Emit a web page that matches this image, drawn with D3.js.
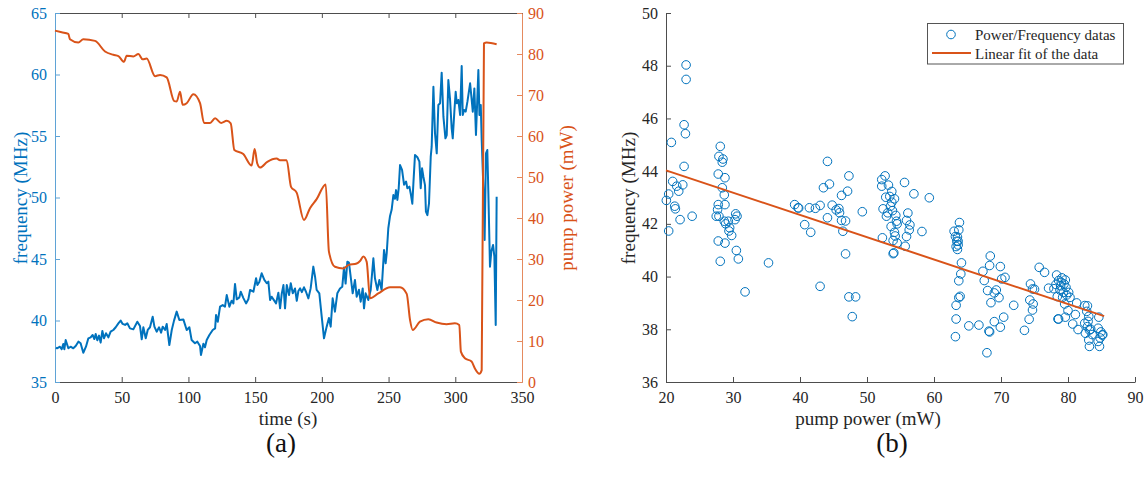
<!DOCTYPE html>
<html>
<head>
<meta charset="utf-8">
<script src="https://cdn.jsdelivr.net/npm/d3@7/dist/d3.min.js"></script>
<style>
  html, body { margin: 0; padding: 0; background: #ffffff; }
  svg { display: block; }
  text { font-family: "Liberation Serif", "Times New Roman", serif; }
</style>
</head>
<body>
<svg id="chart" width="1148" height="484"></svg>
<script>
// ---------------- DATA ----------------
// (a) frequency vs time
const freqTime = [0.7,1.5,3.7,5,6.2,7,8,10,11.7,13.7,15.5,17.5,19.2,21.2,23.2,25,26.7,28.2,29.5,30.5,31.7,33,34.2,35.5,36.7,38.2,40,41.7,43.7,45.5,47.5,49.2,50.7,52.5,54.2,56.2,58.7,61.7,63.7,65,66.2,68,69.5,71.2,73.2,74.5,76.2,78,79.5,80.7,82.5,83.7,85.7,87.5,89.2,91.2,93.2,96.2,98.7,100.7,102.4,104.9,106.7,108.7,109.4,111.2,112.4,113.7,115.7,118.2,120,120.7,122,123.7,125.7,127.4,128.7,130.7,132.4,133.7,134.9,136.2,138.2,139.2,141.2,143.2,144.9,146.2,148.7,150.7,151.7,153.2,154.9,156.9,158.7,159.9,161.2,162.4,163.7,165.7,167.4,168.7,169.9,171.2,172.4,173.7,175.4,176.7,178.2,179.9,181.2,182.4,183.7,185,186.6,188.1,189.9,191.6,193.6,194.9,196.1,198.1,199.9,201.6,203.6,205.3,206.6,208.1,209.8,211.6,213.6,215.3,216.6,217.8,219.1,220.3,221.6,223.1,224.8,226.1,227.8,229.1,230.6,231.6,232.8,234.8,236.6,238.6,239.8,241.6,243.1,244.8,246.6,247.8,248.6,249.8,251.1,252.3,253.6,254.8,255.6,256.6,257.6,258.6,260.1,261.6,263.1,264.1,265.6,266.8,267.8,268.6,269.8,271.6,273.1,274.1,275.1,276.1,277.3,278,279.1,280.3,281.6,282.3,283.6,284.8,286.1,287.3,288.6,289.8,291.1,292.6,293.6,294.8,296.1,297.3,298.1,299.3,300.3,301.1,302.3,303.6,304.8,305.6,306.6,307.8,309.1,311.1,312.3,313.1,314.3,315.5,317.3,318.1,319.1,319.8,321.1,322,323,324,324.8,326,327,328.3,329.3,330.3,331];
const freqValues = [37.79,37.74,37.87,37.66,38.09,37.66,38.41,37.74,37.87,37.74,37.93,38.28,38.15,37.38,37.87,38.55,38.63,38.82,38.49,38.9,38.39,38.77,38.2,39.15,38.55,38.96,38.63,39.09,39.23,39.45,39.77,39.99,39.72,39.64,39.77,39.36,39.28,39.9,39.55,38.47,39.45,38.55,39.23,39.45,40.31,39.5,39.09,39.45,39.01,39.5,39.23,39.72,38.0,39.23,39.99,40.72,40.04,40.09,39.23,39.45,38.41,38.15,38.28,37.93,37.2,38.11,37.82,38.41,38.82,39.23,39.36,40.45,39.9,41.12,41.25,41.12,42.07,41.12,41.61,41.39,42.97,41.72,41.88,42.34,41.82,41.39,41.72,42.48,42.34,43.43,42.88,43.16,43.84,43.3,43.03,43.16,41.67,41.93,41.72,41.39,42.26,40.99,42.15,42.88,40.99,42.88,42.07,43.03,42.21,42.6,41.6,42.4,42.61,42.3,42.7,42.34,41.8,42.61,44.38,43.56,42.48,42.21,40.31,38.55,39.5,40.21,39.5,41.8,40.72,42.21,42.6,42.75,44.3,43.0,44.78,44.7,43.56,42.21,43.3,41.94,42.5,41.53,42.61,40.99,42.21,41.67,42.48,45.06,43.43,42.48,43.3,42.48,45.73,44.65,45.46,47.5,48.5,49.0,50.2,49.9,50.6,49.8,50.75,52.64,52.24,51.04,51.3,50.75,50.88,50.2,49.5,51.15,53.46,53.27,52.92,50.75,52.37,51.69,51.01,48.85,48.57,49.53,53.32,54.13,59.0,55.22,53.59,57.52,57.66,60.15,56.57,54.81,55.08,59.55,57.93,55.62,54.81,56.98,58.6,57.66,57.93,56.71,60.69,56.71,57.11,56.98,57.79,59.28,57.93,56.98,58.87,55.08,60.37,56.71,57.52,54.67,50.61,46.54,53.59,53.86,50.34,44.38,45.6,46.14,45.19,39.63,50.07];

// (a) pump power vs time
const powerTime = [0,5,10,11.2,17.5,21.2,30,37.5,43.7,47.5,51.7,53.7,58.7,62.5,65.7,68.7,75,78.7,83.7,89.4,91.2,93.7,95.7,98.7,103.7,108.7,111.7,116.2,120,124.5,128.7,131.7,134.4,141.1,147.4,149.6,151.6,153.7,159.1,166.1,168.6,173.6,176.9,181.1,186.6,191.1,196.1,202.9,205.3,209.8,216.1,219.8,226.1,228.6,231.1,233.6,236.1,242.3,251.1,258.6,263.6,266.1,268.1,273.5,279.8,286,293.5,299.7,303,304.2,307.2,312.2,314.7,318,319.8,321.5,323.5,331];
const powerValues = [85.7,85.3,84.9,83.6,82.8,83.6,83.2,80.6,79.8,79.5,78.1,79.6,79.4,80.0,78.7,78.9,74.6,74.9,74.3,68.5,68.4,70.8,67.6,68.0,70.2,68.0,63.2,63.2,64.3,63.2,63.7,63.1,56.6,55.6,52.8,56.8,53.3,52.3,53.7,54.5,54.1,54.1,47.6,46.2,39.5,42.4,44.6,48.2,31.8,28.1,27.7,28.5,28.9,29.5,30.6,29.3,20.4,21.6,23.1,23.1,21.5,15.1,12.7,14.7,15.3,14.5,14.1,14.3,13.9,7.4,5.8,5.0,3.3,2.0,2.9,82.6,82.8,82.4];

// (b) scatter: pump power (mW) and frequency (MHz)
const scatterPower = [23.0,23.0,22.7,22.9,20.8,22.7,21.0,20.4,21.6,21.9,22.5,20.05,21.3,21.4,22.1,23.9,20.4,
  28.1,27.9,28.5,28.4,27.8,28.8,28.4,28.7,27.8,28.8,27.7,27.5,27.9,28.7,28.9,29.3,30.4,30.6,30.3,29.5,29.8,29.4,27.8,28.8,28.1,30.5,30.8,31.8,35.3,
  39.2,39.7,39.8,40.7,41.6,41.4,42.3,43.0,43.5,44.4,44.1,44.1,44.8,45.4,45.8,45.9,46.2,47.1,47.3,46.2,46.8,46.4,46.8,43.0,47.3,48.3,47.8,49.3,
  52.7,52.2,52.2,53.2,53.7,52.8,53.4,54.1,53.7,53.5,52.4,53.1,52.9,54.3,54.5,55.6,57.0,59.3,56.1,55.9,56.4,56.3,55.9,54.1,54.2,53.9,52.3,54.5,55.7,58.2,53.9,54.0,53.8,54.4,53.6,
  63.8,63.0,63.7,63.2,63.4,63.6,63.3,63.5,64.1,64.0,63.7,63.9,63.7,63.3,63.3,63.2,65.2,66.7,63.5,63.6,
  68.4,68.3,67.3,67.5,68.0,69.0,69.3,69.7,68.5,69.9,70.1,70.6,67.9,68.3,68.2,69.0,70.4,69.9,71.9,73.5,74.2,
  74.4,74.7,75.0,74.3,74.8,74.7,75.7,76.5,
  77.1,77.9,78.3,78.6,79.0,79.4,79.6,79.7,78.8,78.4,79.2,80.3,79.5,80.0,78.5,78.6,79.6,81.1,81.3,80.7,81.5,82.5,82.9,82.8,83.1,82.5,82.9,83.2,82.6,83.1,83.2,84.5,84.6,85.1,84.8,84.5,84.7,85.2,
  78.9,79.3,79.8,78.2,79.1,80.1,83.0,83.4,83.6,84.9];
const scatterFreq = [48.03,47.48,45.76,45.42,45.09,44.18,43.61,43.13,43.43,43.24,43.48,42.89,42.67,42.57,42.16,42.29,41.73,
  44.94,44.56,44.46,44.34,43.89,43.75,43.37,43.10,42.73,42.73,42.54,42.29,42.29,42.10,42.00,42.10,42.38,42.29,42.16,41.85,41.56,41.73,41.35,41.27,40.58,40.99,40.67,39.42,40.52,
  42.73,42.61,42.60,41.97,41.68,42.61,42.59,42.70,43.37,43.51,44.37,42.23,42.71,42.53,42.58,42.42,43.08,43.24,43.82,42.13,42.11,41.72,40.86,39.63,39.23,39.23,38.48,42.46,
  43.82,43.68,43.43,43.47,43.23,43.01,43.04,42.95,42.82,42.67,42.57,42.42,42.29,42.32,42.00,43.57,43.14,42.99,42.41,42.13,41.96,41.77,41.52,41.68,41.54,41.37,41.47,41.27,41.15,41.71,40.87,40.90,42.50,42.10,41.90,
  42.05,41.72,41.77,41.52,41.34,41.34,41.14,41.03,40.52,40.10,39.84,39.25,39.20,38.91,38.39,37.72,38.13,38.16,41.50,41.20,
  40.78,40.42,40.20,39.85,39.47,39.38,39.49,39.20,39.01,40.38,39.91,39.97,37.11,37.90,37.93,38.29,38.46,38.08,38.91,37.96,38.38,
  39.72,39.53,39.52,39.11,38.96,38.73,40.35,40.16,
  39.56,39.54,40.06,39.85,39.78,39.72,39.87,39.59,39.49,39.24,39.21,39.21,38.96,38.71,38.39,38.39,38.46,38.56,39.00,38.20,37.99,38.90,38.89,38.68,38.49,38.23,38.10,37.97,37.85,37.59,37.35,38.04,38.46,37.78,37.67,37.54,37.35,37.80,
  39.65,39.40,39.30,39.70,39.95,39.40,38.30,38.00,37.80,37.90];

// (b) linear fit endpoints
const fitPower = [20, 85.4];
const fitFreq = [44.03, 38.5];

// tick values
const timeTicks = [0, 50, 100, 150, 200, 250, 300, 350];
const freqTicksA = [35, 40, 45, 50, 55, 60, 65];
const powerTicksA = [0, 10, 20, 30, 40, 50, 60, 70, 80, 90];
const pumpTicksB = [20, 30, 40, 50, 60, 70, 80, 90];
const freqTicksB = [36, 38, 40, 42, 44, 46, 48, 50];

const legendLabels = ["Power/Frequency datas", "Linear fit of the data"];
const panelLabels = ["(a)", "(b)"];

// ---------------- DRAWING ----------------
const BLUE = "#0072BD", ORANGE = "#D95319", AXIS = "#4d4d4d", TXT = "#262626";
const svg = d3.select("#chart");

function styleAxis(g, color, textColor) {
  g.select(".domain").attr("stroke", color).attr("stroke-width", 1);
  g.selectAll(".tick line").attr("stroke", color);
  g.selectAll(".tick text").attr("fill", textColor).style("font-size", "16px")
    .style("font-family", '"Liberation Serif", "Times New Roman", serif');
}

// ===== Panel (a) =====
const xA = d3.scaleLinear().domain([0, 350]).range([55, 522]);
const yFA = d3.scaleLinear().domain([35, 65]).range([382, 13]);
const yPA = d3.scaleLinear().domain([0, 90]).range([382, 13]);

const gA = svg.append("g");

// top axis (box)
gA.append("g").attr("transform", `translate(0,${yFA(65)})`)
  .call(d3.axisTop(xA).tickValues(timeTicks).tickSizeInner(-5).tickSizeOuter(0).tickFormat(""))
  .call(g => styleAxis(g, AXIS, TXT));
// bottom axis
gA.append("g").attr("transform", `translate(0,${yFA(35)})`)
  .call(d3.axisBottom(xA).tickValues(timeTicks).tickSizeInner(-5).tickSizeOuter(0).tickPadding(10))
  .call(g => styleAxis(g, AXIS, TXT));
// left axis
gA.append("g").attr("transform", `translate(${xA(0)},0)`)
  .call(d3.axisLeft(yFA).tickValues(freqTicksA).tickSizeInner(-5).tickSizeOuter(0).tickPadding(8))
  .call(g => styleAxis(g, "#5fa3d6", BLUE));
// right axis
gA.append("g").attr("transform", `translate(${xA(350)},0)`)
  .call(d3.axisRight(yPA).tickValues(powerTicksA).tickSizeInner(-5).tickSizeOuter(0).tickPadding(6))
  .call(g => styleAxis(g, "#e58a5e", ORANGE));

const lineF = d3.line().x((d, i) => xA(freqTime[i])).y(d => yFA(d));
gA.append("path").datum(freqValues).attr("d", lineF)
  .attr("fill", "none").attr("stroke", BLUE).attr("stroke-width", 2).attr("stroke-linejoin", "round");

const lineP = d3.line().x((d, i) => xA(powerTime[i])).y(d => yPA(d)).curve(d3.curveMonotoneX);
gA.append("path").datum(powerValues).attr("d", lineP)
  .attr("fill", "none").attr("stroke", ORANGE).attr("stroke-width", 2).attr("stroke-linejoin", "round");

gA.append("text").attr("x", 288).attr("y", 425).attr("text-anchor", "middle")
  .attr("fill", TXT).style("font-size", "19px").text("time (s)");
gA.append("text").attr("transform", "translate(20,198) rotate(-90)").attr("text-anchor", "middle")
  .attr("dominant-baseline", "central").attr("fill", BLUE).style("font-size", "19px").text("frequency (MHz)");
gA.append("text").attr("transform", "translate(566,198) rotate(-90)").attr("text-anchor", "middle")
  .attr("dominant-baseline", "central").attr("fill", ORANGE).style("font-size", "19px").text("pump power (mW)");
gA.append("text").attr("x", 281).attr("y", 452).attr("text-anchor", "middle")
  .attr("fill", "#111").style("font-size", "27px").text(panelLabels[0]);

// ===== Panel (b) =====
const xB = d3.scaleLinear().domain([20, 90]).range([666, 1135]);
const yB = d3.scaleLinear().domain([36, 50]).range([382, 13]);
const gB = svg.append("g");

gB.append("g").attr("transform", `translate(0,${yB(36)})`)
  .call(d3.axisBottom(xB).tickValues(pumpTicksB).tickSizeInner(-5).tickSizeOuter(0).tickPadding(10))
  .call(g => styleAxis(g, AXIS, TXT));
gB.append("g").attr("transform", `translate(${xB(20)},0)`)
  .call(d3.axisLeft(yB).tickValues(freqTicksB).tickSizeInner(-5).tickSizeOuter(0).tickPadding(8))
  .call(g => styleAxis(g, AXIS, TXT));

gB.append("g").selectAll("circle").data(scatterPower).join("circle")
  .attr("cx", d => xB(d)).attr("cy", (d, i) => yB(scatterFreq[i])).attr("r", 4.3)
  .attr("fill", "none").attr("stroke", BLUE).attr("stroke-width", 1);

gB.append("line").attr("x1", xB(fitPower[0])).attr("y1", yB(fitFreq[0]))
  .attr("x2", xB(fitPower[1])).attr("y2", yB(fitFreq[1]))
  .attr("stroke", ORANGE).attr("stroke-width", 2);

gB.append("text").attr("x", 868).attr("y", 425).attr("text-anchor", "middle")
  .attr("fill", TXT).style("font-size", "19px").text("pump power (mW)");
gB.append("text").attr("transform", "translate(628,198) rotate(-90)").attr("text-anchor", "middle")
  .attr("dominant-baseline", "central").attr("fill", TXT).style("font-size", "19px").text("frequency (MHz)");
gB.append("text").attr("x", 892).attr("y", 452).attr("text-anchor", "middle")
  .attr("fill", "#111").style("font-size", "27px").text(panelLabels[1]);

// legend
const lg = gB.append("g");
lg.append("rect").attr("x", 927.5).attr("y", 23.5).attr("width", 196).attr("height", 40.5)
  .attr("fill", "#fff").attr("stroke", "#555").attr("stroke-width", 1);
lg.append("circle").attr("cx", 951).attr("cy", 34.5).attr("r", 4.3)
  .attr("fill", "none").attr("stroke", BLUE).attr("stroke-width", 1);
lg.append("line").attr("x1", 932).attr("x2", 971).attr("y1", 53).attr("y2", 53)
  .attr("stroke", ORANGE).attr("stroke-width", 2);
lg.selectAll("text.lab").data(legendLabels).join("text").attr("class", "lab")
  .attr("x", 975).attr("y", (d, i) => 40 + i * 19)
  .attr("fill", TXT).style("font-size", "15px").text(d => d);
</script>
</body>
</html>
